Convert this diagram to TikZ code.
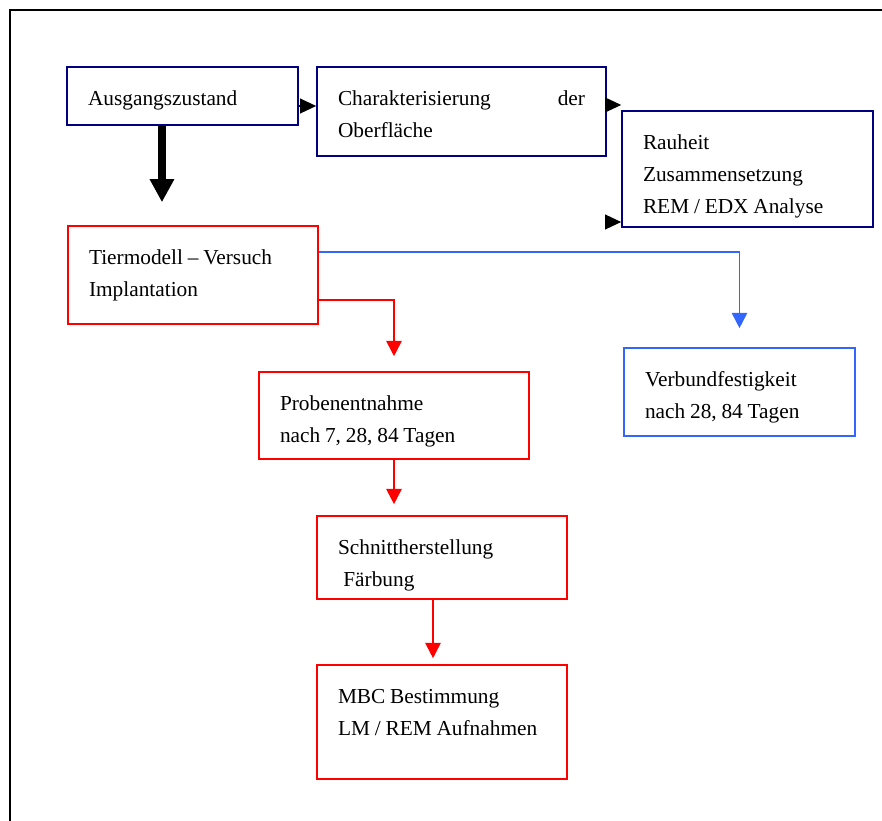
\documentclass[tikz,border=0pt]{standalone}
\usepackage{fontspec}
\setmainfont{Liberation Serif}
\usetikzlibrary{arrows.meta}
\definecolor{boxnavy}{RGB}{0,0,128}
\definecolor{boxred}{RGB}{255,0,0}
\definecolor{boxblue}{RGB}{51,102,255}
\newcommand\tightspace{\spaceskip=3.6pt plus 1pt minus 1pt\relax}
\begin{document}
\frenchspacing
\begin{tikzpicture}[x=0.75pt,y=-0.75pt,
  font=\fontsize{16pt}{24pt}\selectfont,
  execute at begin node=\tightspace,
  stage/.style={draw,line width=1.2pt,align=left,inner xsep=15.75pt,inner ysep=0pt,
                text height=29pt},
  navybox/.style={stage,draw=boxnavy},
  redbox/.style={stage,draw=boxred},
  bluebox/.style={stage,draw=boxblue},
  arr/.style={-{Triangle[length=12pt,width=11pt]},line width=1.2pt},
  bigarr/.style={-{Triangle[length=17.25pt,width=17.25pt]},line width=6pt},
  redarr/.style={-{Triangle[length=11.5pt,width=11.5pt]},line width=1.3pt,draw=boxred},
  bluearr/.style={-{Triangle[length=11.5pt,width=11.5pt]},line width=1.3pt,draw=boxblue}]
  \useasboundingbox (0,0) rectangle (882,821);
  \draw[line width=1.5pt] (10,830) -- (10,10) -- (890,10);
  \node[navybox,text width=141.75pt,text depth=14.5pt] (start) at (182.5,96)
    {Ausgangszustand};
  \node[navybox,text width=185.25pt,text depth=37.75pt] (surface) at (461.5,111.5)
    {Charakterisierung\hfill der\\Oberfläche};
  \node[navybox,text width=156.75pt,text depth=58pt] (props) at (747.5,169)
    {Rauheit\\Zusammensetzung\\REM / EDX Analyse};
  \node[redbox,text width=156pt,text depth=44.5pt] (animal) at (193,275)
    {Tiermodell -- Versuch\\Implantation};
  \node[bluebox,text width=141.75pt,text depth=37pt] (bond) at (739.5,392)
    {Verbundfestigkeit\\nach 28, 84 Tagen};
  \node[redbox,text width=171pt,text depth=36.25pt] (sample) at (394,415.5)
    {Probenentnahme\\nach 7, 28, 84 Tagen};
  \node[redbox,text width=156pt,text depth=33.25pt] (section) at (442,557.5)
    {Schnittherstellung\\\hspace*{4pt}Färbung};
  \node[redbox,text width=156pt,text depth=56.5pt] (mbc) at (442,722)
    {MBC Bestimmung\\LM / REM Aufnahmen};
  \coordinate (stub) at (605,222);
  \draw[arr] ([yshift=-7.5pt]start.east) -- ([yshift=-7.5pt]start.east -| surface.west);
  \draw[arr] ([yshift=4.9pt]surface.east) -- ([yshift=4.9pt]surface.east -| props.west);
  \draw[arr] (stub) -- (stub -| props.west);
  \draw[bigarr] ([xshift=-15.4pt]start.south) -- ([xshift=-15.4pt,yshift=17.25pt]start.south |- animal.north);
  \draw[bluearr] ([yshift=17.25pt]animal.east) -| ([yshift=14.25pt]bond.north);
  \draw[redarr] ([yshift=-18.75pt]animal.east) -| ([yshift=11.25pt]sample.north);
  \draw[redarr] (sample.south) -- ([yshift=8.25pt]sample.south |- section.north);
  \draw[redarr] ([xshift=-6.75pt]section.south) -- ([xshift=-6.75pt,yshift=4.5pt]section.south |- mbc.north);
\end{tikzpicture}
\end{document}
